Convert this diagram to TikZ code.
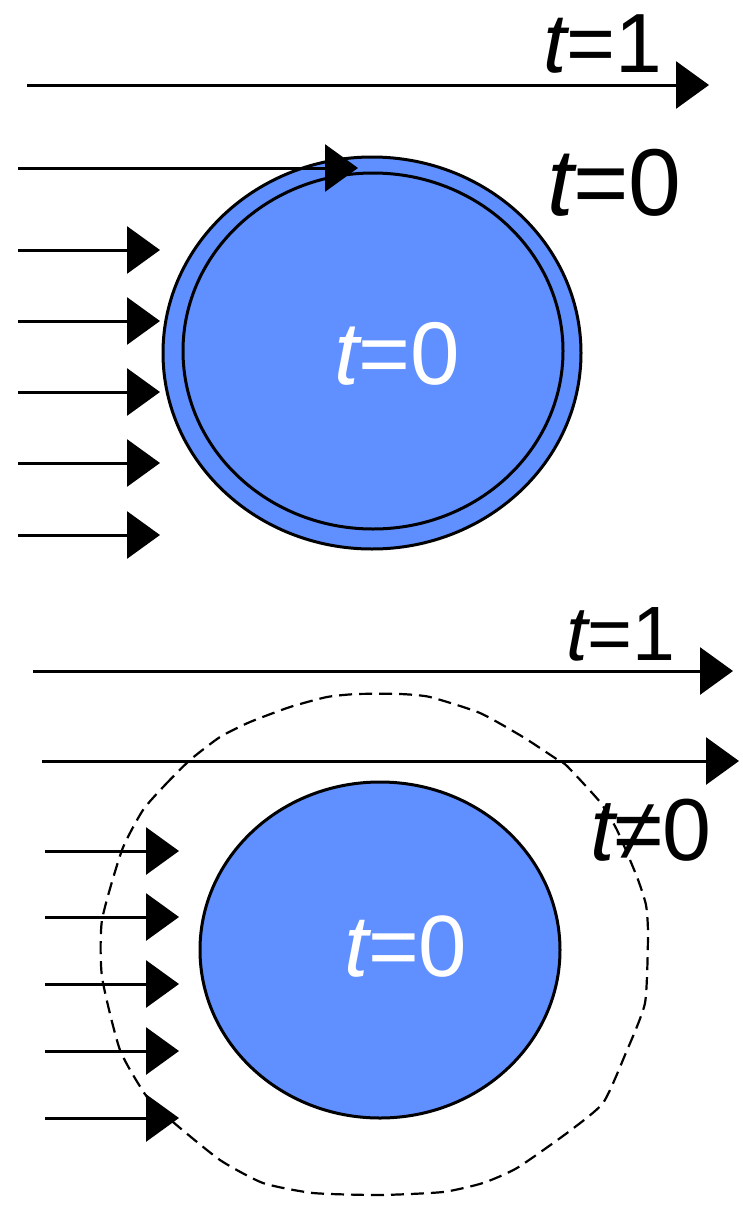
\documentclass[tikz,border=0pt]{standalone}
\usepackage{fontspec}
\setmainfont{Liberation Sans}
\usetikzlibrary{arrows.meta}
\definecolor{ballblue}{RGB}{96,143,255}
\tikzset{
  flow/.style={line width=3pt,-{Triangle[length=33pt,width=47pt]}},
  ball/.style={fill=ballblue,draw=black,line width=3pt},
  lbl/.style={anchor=base west,inner sep=0pt,outer sep=0pt},
  halo/.style={draw=black,line width=2.2pt,dash pattern=on 13pt off 7pt}
}
\begin{document}
\begin{tikzpicture}[x=1pt,y=-1pt]
\useasboundingbox (0,0) rectangle (743,1210);
% ---------- top part ----------
\draw[ball] (372,353) ellipse [x radius=209, y radius=196];
\draw[ball] (373,351) ellipse [x radius=190, y radius=178];
\coordinate (a0s) at (27,85);  \coordinate (a0e) at (709,85);
\coordinate (a1s) at (18,168); \coordinate (a1e) at (358,168);
\draw[flow] (a0s) -- (a0e);
\draw[flow] (a1s) -- (a1e);
\foreach \y [count=\i] in {250,321,392,463,535}{
  \coordinate (ls\i) at (18,\y); \coordinate (le\i) at (160,\y);
  \draw[flow] (ls\i) -- (le\i);
}
\node[lbl,font=\fontsize{84}{84}\selectfont] (t1a) at (543,72) {\itshape t\upshape =1};
\node[lbl,font=\fontsize{95}{95}\selectfont] (t0a) at (547,215) {\itshape t\upshape =0};
\node[lbl,font=\fontsize{89}{89}\selectfont,text=white] (t0b) at (334,384) {\itshape t\upshape =0};
% ---------- bottom part ----------
\draw[ball] (380,950) ellipse [x radius=180, y radius=168];
\coordinate (b0s) at (33,671);  \coordinate (b0e) at (733,671);
\coordinate (b1s) at (42,761);  \coordinate (b1e) at (739,761);
\draw[flow] (b0s) -- (b0e);
\draw[flow] (b1s) -- (b1e);
\foreach \y [count=\i] in {851,917,984,1051,1118}{
  \coordinate (ms\i) at (45,\y); \coordinate (me\i) at (179,\y);
  \draw[flow] (ms\i) -- (me\i);
}
\draw[halo] plot[smooth cycle, tension=0.35] coordinates {
  (143,810) (165,785) (190,760) (220,737) (250,722) (290,707) (327,697) (357,694)
  (400,694) (430,697) (480,713) (523,737) (558,760) (567,766) (600,802) (617,830)
  (637,877) (646,905) (648,935) (645,1003) (625,1055) (603,1103) (567,1133)
  (517,1168) (483,1183) (443,1192) (380,1195) (313,1193) (263,1183) (220,1160)
  (173,1122) (147,1097) (120,1050) (102,977) (102,920) (122,850)};
\node[lbl,font=\fontsize{77}{77}\selectfont] (t1c) at (566,660) {\itshape t\upshape =1};
\node[lbl,font=\fontsize{88}{88}\selectfont] (tn0) at (590,860) {\itshape t\upshape ≠0};
\node[lbl,font=\fontsize{87}{87}\selectfont,text=white] (t0c) at (344,976) {\itshape t\upshape =0};
\end{tikzpicture}
\end{document}
